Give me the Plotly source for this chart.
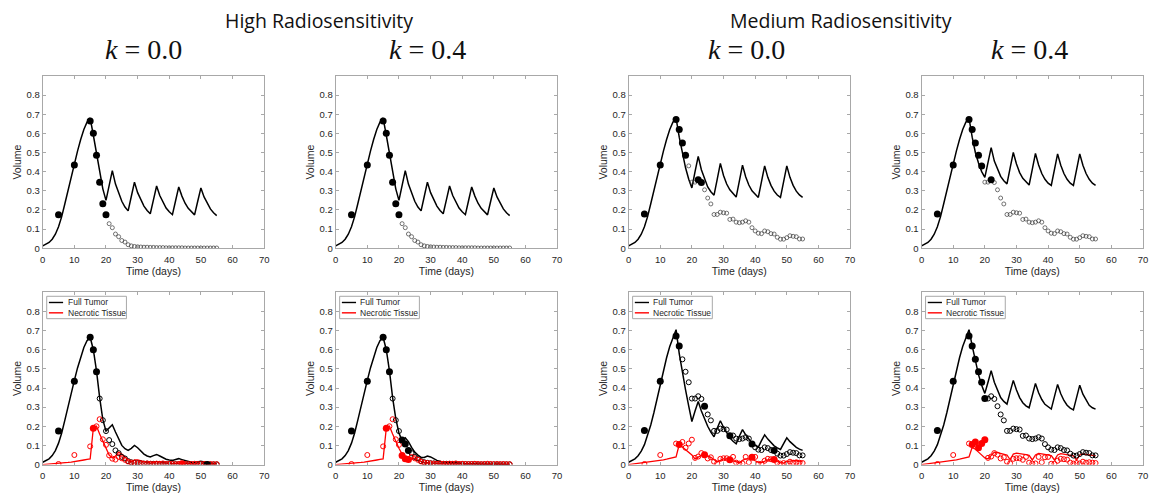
import plotly.graph_objects as go

# ---------------- model time grid (days) ----------------
t_model = [0, 1, 2, 3, 4, 5, 6, 7, 8, 9, 10, 11, 12, 13, 14, 15, 16, 17, 18, 19, 20,
           21, 22, 23, 24, 25, 26, 27, 28, 29, 30, 31, 32, 33, 34, 35, 36, 37, 38, 39, 40,
           41, 42, 43, 44, 45, 46, 47, 48, 49, 50, 51, 52, 53, 54, 55]

# growth phase (day 0..15)
growth_top = [0.012, 0.019, 0.030, 0.047, 0.073, 0.112, 0.165, 0.232, 0.305, 0.375, 0.440, 0.507, 0.568, 0.620, 0.658, 0.680]
growth_high_bottom = [0.012, 0.019, 0.030, 0.047, 0.073, 0.112, 0.165, 0.232, 0.305, 0.375, 0.440, 0.505, 0.562, 0.612, 0.647, 0.665]
growth_med_bottom = [0.012, 0.019, 0.030, 0.046, 0.070, 0.104, 0.150, 0.207, 0.272, 0.344, 0.420, 0.492, 0.558, 0.617, 0.666, 0.705]
necrotic_growth_high = [0.000, 0.001, 0.002, 0.003, 0.004, 0.006, 0.007, 0.009, 0.011, 0.013, 0.015, 0.018, 0.021, 0.024, 0.027, 0.030]
necrotic_growth_med = [0.000, 0.002, 0.004, 0.006, 0.008, 0.010, 0.012, 0.014, 0.017, 0.019, 0.022, 0.025, 0.028, 0.031, 0.035, 0.040]

# treatment phase (day 16..55)
tail_top_high = [0.590, 0.490, 0.390, 0.310, 0.250,
                 0.330, 0.405, 0.335, 0.285, 0.245, 0.215, 0.195,
                 0.270, 0.345, 0.290, 0.250, 0.220, 0.197, 0.180,
                 0.252, 0.325, 0.275, 0.238, 0.210, 0.190, 0.175,
                 0.248, 0.320, 0.272, 0.235, 0.208, 0.188, 0.174,
                 0.245, 0.315, 0.268, 0.232, 0.205, 0.185, 0.170]
tail_top_med_k00 = [0.580, 0.490, 0.420, 0.360, 0.315,
                    0.400, 0.480, 0.410, 0.360, 0.320, 0.295, 0.277,
                    0.360, 0.443, 0.380, 0.335, 0.305, 0.283, 0.267,
                    0.350, 0.434, 0.373, 0.330, 0.300, 0.280, 0.265,
                    0.348, 0.430, 0.370, 0.328, 0.298, 0.278, 0.265,
                    0.348, 0.430, 0.370, 0.328, 0.298, 0.278, 0.266]
tail_top_med_k04 = [0.580, 0.500, 0.445, 0.400, 0.370,
                    0.450, 0.525, 0.455, 0.410, 0.375, 0.352, 0.336,
                    0.420, 0.500, 0.440, 0.395, 0.365, 0.345, 0.330,
                    0.412, 0.495, 0.435, 0.390, 0.360, 0.340, 0.328,
                    0.410, 0.493, 0.433, 0.390, 0.360, 0.340, 0.328,
                    0.410, 0.493, 0.433, 0.390, 0.360, 0.340, 0.328]
tail_bot_high_k00_tumor = [0.600, 0.490, 0.350, 0.235, 0.175,
                           0.190, 0.208, 0.170, 0.130, 0.100, 0.083, 0.074,
                           0.085, 0.100, 0.088, 0.070, 0.055, 0.045, 0.040,
                           0.047, 0.053, 0.045, 0.035, 0.028, 0.024, 0.022,
                           0.027, 0.031, 0.026, 0.020, 0.015, 0.012, 0.011,
                           0.014, 0.017, 0.014, 0.010, 0.008, 0.006, 0.005]
tail_bot_high_k00_necrotic = [0.190, 0.200, 0.160, 0.125, 0.090,
                              0.050, 0.035, 0.045, 0.065, 0.055, 0.040, 0.020,
                              0.015, 0.025, 0.025, 0.020, 0.015, 0.010, 0.008,
                              0.012, 0.015, 0.013, 0.010, 0.008, 0.006, 0.005,
                              0.007, 0.008, 0.007, 0.005, 0.004, 0.003, 0.003,
                              0.004, 0.005, 0.004, 0.003, 0.002, 0.002, 0.002]
tail_bot_high_k04_tumor = [0.600, 0.490, 0.350, 0.240, 0.165,
                           0.125, 0.140, 0.120, 0.090, 0.065, 0.050, 0.038,
                           0.037, 0.045, 0.040, 0.030, 0.022, 0.016, 0.012,
                           0.011, 0.013, 0.011, 0.008, 0.006, 0.005, 0.004,
                           0.004, 0.005, 0.004, 0.003, 0.003, 0.002, 0.002,
                           0.002, 0.003, 0.002, 0.002, 0.002, 0.001, 0.001]
tail_bot_high_k04_necrotic = [0.190, 0.200, 0.160, 0.120, 0.085,
                              0.055, 0.035, 0.028, 0.035, 0.030, 0.022, 0.014,
                              0.009, 0.010, 0.010, 0.008, 0.006, 0.004, 0.003,
                              0.003, 0.004, 0.003, 0.002, 0.002, 0.002, 0.002,
                              0.002, 0.002, 0.002, 0.002, 0.002, 0.002, 0.002,
                              0.002, 0.002, 0.001, 0.001, 0.001, 0.001, 0.001]
tail_bot_med_k00_tumor = [0.580, 0.480, 0.390, 0.305, 0.225,
                          0.280, 0.330, 0.280, 0.235, 0.200, 0.170, 0.145,
                          0.190, 0.229, 0.195, 0.165, 0.140, 0.122, 0.109,
                          0.148, 0.183, 0.155, 0.132, 0.113, 0.100, 0.091,
                          0.125, 0.155, 0.133, 0.113, 0.098, 0.087, 0.079,
                          0.110, 0.140, 0.120, 0.103, 0.090, 0.081, 0.074]
tail_bot_med_k00_necrotic = [0.105, 0.092, 0.078, 0.065, 0.050,
                             0.030, 0.038, 0.048, 0.050, 0.045, 0.038, 0.025,
                             0.014, 0.022, 0.030, 0.030, 0.025, 0.020, 0.013,
                             0.010, 0.022, 0.030, 0.030, 0.028, 0.020, 0.012,
                             0.010, 0.018, 0.025, 0.026, 0.024, 0.018, 0.010,
                             0.008, 0.016, 0.020, 0.021, 0.020, 0.018, 0.016]
tail_bot_med_k04_tumor = [0.620, 0.540, 0.470, 0.415, 0.372,
                          0.430, 0.491, 0.430, 0.385, 0.350, 0.330, 0.316,
                          0.380, 0.440, 0.390, 0.350, 0.323, 0.307, 0.297,
                          0.360, 0.424, 0.375, 0.340, 0.315, 0.300, 0.290,
                          0.355, 0.419, 0.370, 0.335, 0.310, 0.295, 0.286,
                          0.350, 0.415, 0.368, 0.335, 0.310, 0.297, 0.290]
tail_bot_med_k04_necrotic = [0.090, 0.080, 0.065, 0.050, 0.035,
                             0.030, 0.050, 0.065, 0.063, 0.060, 0.056, 0.050,
                             0.025, 0.055, 0.060, 0.058, 0.055, 0.052, 0.048,
                             0.024, 0.050, 0.058, 0.056, 0.053, 0.050, 0.047,
                             0.024, 0.050, 0.057, 0.055, 0.052, 0.049, 0.046,
                             0.024, 0.050, 0.056, 0.054, 0.051, 0.048, 0.045]

# ---------------- measured data ----------------
data_days = [5, 10, 15, 16, 17, 18, 19, 20, 21, 22, 23, 24, 25, 26, 27, 28, 29, 30, 31, 32,
             33, 34, 35, 36, 37, 38, 39, 40, 41, 42, 43, 44, 45, 46, 47, 48, 49, 50, 51, 52,
             53, 54, 55]
high_tumor_data = [0.175, 0.435, 0.665, 0.600, 0.485, 0.345, 0.232, 0.175, 0.128, 0.107,
                   0.074, 0.060, 0.040, 0.032, 0.018, 0.012, 0.009, 0.007, 0.006, 0.005,
                   0.005, 0.004, 0.004, 0.003, 0.003, 0.003, 0.002, 0.002, 0.002, 0.002,
                   0.002, 0.002, 0.001, 0.001, 0.001, 0.001, 0.001, 0.001, 0.001, 0.001,
                   0.001, 0.001, 0.001]
high_necrotic_data = [0.003, 0.050, 0.095, 0.190, 0.200, 0.237, 0.132, 0.103, 0.048, 0.031,
                      0.026, 0.040, 0.033, 0.025, 0.015, 0.010, 0.008, 0.006, 0.005, 0.004,
                      0.006, 0.004, 0.003, 0.005, 0.004, 0.006, 0.003, 0.004, 0.003, 0.002,
                      0.003, 0.004, 0.003, 0.002, 0.003, 0.004, 0.003, 0.002, 0.003, 0.002,
                      0.003, 0.002, 0.002]
med_tumor_data = [0.178, 0.435, 0.672, 0.620, 0.550, 0.485, 0.430, 0.345, 0.345, 0.357,
                  0.343, 0.305, 0.262, 0.231, 0.176, 0.176, 0.188, 0.185, 0.183, 0.150,
                  0.152, 0.136, 0.133, 0.136, 0.143, 0.136, 0.107, 0.090, 0.078, 0.076,
                  0.090, 0.086, 0.076, 0.074, 0.057, 0.047, 0.047, 0.055, 0.065, 0.062,
                  0.060, 0.048, 0.048]
med_necrotic_data = [0.003, 0.050, 0.110, 0.105, 0.118, 0.088, 0.110, 0.130, 0.035, 0.042,
                     0.060, 0.052, 0.032, 0.038, 0.015, 0.006, 0.030, 0.033, 0.033, 0.025,
                     0.040, 0.010, 0.005, 0.006, 0.040, 0.012, 0.038, 0.040, 0.004, 0.004,
                     0.020, 0.030, 0.028, 0.026, 0.010, 0.005, 0.008, 0.006, 0.015, 0.010,
                     0.012, 0.010, 0.008]

# days used for calibration (filled markers) in each panel
fit_top_high_k00 = [5, 10, 15, 16, 17, 18, 19, 20]
fit_top_high_k04 = [5, 10, 15, 16, 17, 18, 19, 20]
fit_top_med_k00 = [5, 10, 15, 16, 17, 18, 22, 23]
fit_top_med_k04 = [5, 10, 15, 16, 17, 18, 19, 22]
fit_bot_high_k00_tumor = [5, 10, 15, 16, 17, 52]
fit_bot_high_k00_necrotic = [16, 44]
fit_bot_high_k04_tumor = [5, 10, 15, 16, 17, 21, 22, 23]
fit_bot_high_k04_necrotic = [16, 21, 22, 23]
fit_bot_med_k00_tumor = [5, 10, 15, 16, 24, 32, 39, 46]
fit_bot_med_k00_necrotic = [16, 24, 32, 39, 46]
fit_bot_med_k04_tumor = [5, 10, 15, 16, 17, 18, 19, 20]
fit_bot_med_k04_necrotic = [16, 17, 18, 19, 20]

x_ticks = [0, 10, 20, 30, 40, 50, 60, 70]
y_ticks = [0, 0.1, 0.2, 0.3, 0.4, 0.5, 0.6, 0.7, 0.8]
y_tick_labels = ["0", "0.1", "0.2", "0.3", "0.4", "0.5", "0.6", "0.7", "0.8"]

group_titles = ["High Radiosensitivity", "Medium Radiosensitivity"]
k_titles = ["<i>k</i> = 0.0", "<i>k</i> = 0.4", "<i>k</i> = 0.0", "<i>k</i> = 0.4"]
legend_labels = ["Full Tumor", "Necrotic Tissue"]

# ---------------- layout geometry ----------------
W, H = 1150, 497
col_px = [(40, 263), (335, 558), (630, 853), (925, 1148)]
row_px = [(76.7, 250.7), (295.3, 469.3)]

BLACK = "#000000"
RED = "#ff0000"
AX = "#a8a8a8"

panels = [
    dict(tumor=growth_top + tail_top_high, nec=None, tdata=high_tumor_data, ndata=None,
         tfit=fit_top_high_k00, nfit=None),
    dict(tumor=growth_top + tail_top_high, nec=None, tdata=high_tumor_data, ndata=None,
         tfit=fit_top_high_k04, nfit=None),
    dict(tumor=growth_top + tail_top_med_k00, nec=None, tdata=med_tumor_data, ndata=None,
         tfit=fit_top_med_k00, nfit=None),
    dict(tumor=growth_top + tail_top_med_k04, nec=None, tdata=med_tumor_data, ndata=None,
         tfit=fit_top_med_k04, nfit=None),
    dict(tumor=growth_high_bottom + tail_bot_high_k00_tumor,
         nec=necrotic_growth_high + tail_bot_high_k00_necrotic,
         tdata=high_tumor_data, ndata=high_necrotic_data,
         tfit=fit_bot_high_k00_tumor, nfit=fit_bot_high_k00_necrotic),
    dict(tumor=growth_high_bottom + tail_bot_high_k04_tumor,
         nec=necrotic_growth_high + tail_bot_high_k04_necrotic,
         tdata=high_tumor_data, ndata=high_necrotic_data,
         tfit=fit_bot_high_k04_tumor, nfit=fit_bot_high_k04_necrotic),
    dict(tumor=growth_med_bottom + tail_bot_med_k00_tumor,
         nec=necrotic_growth_med + tail_bot_med_k00_necrotic,
         tdata=med_tumor_data, ndata=med_necrotic_data,
         tfit=fit_bot_med_k00_tumor, nfit=fit_bot_med_k00_necrotic),
    dict(tumor=growth_med_bottom + tail_bot_med_k04_tumor,
         nec=necrotic_growth_med + tail_bot_med_k04_necrotic,
         tdata=med_tumor_data, ndata=med_necrotic_data,
         tfit=fit_bot_med_k04_tumor, nfit=fit_bot_med_k04_necrotic),
]


def split(days, vals, fit):
    xf = [d for d, v in zip(days, vals) if d in fit]
    yf = [v for d, v in zip(days, vals) if d in fit]
    xo = [d for d, v in zip(days, vals) if d not in fit]
    yo = [v for d, v in zip(days, vals) if d not in fit]
    return xf, yf, xo, yo


fig = go.Figure()
layout = dict(width=W, height=H, autosize=False, margin=dict(l=0, r=0, t=0, b=0),
              paper_bgcolor="white", plot_bgcolor="white", showlegend=False,
              font=dict(family="Liberation Sans, Arial, sans-serif", color="#262626"))
shapes, annotations = [], []

for i, p in enumerate(panels):
    n = i + 1
    row, col = divmod(i, 4)
    xs = "" if n == 1 else str(n)
    xa, ya = "x" + xs, "y" + xs
    bottom = row == 1
    open_size = 5 if bottom else 4
    open_lw = 1.0 if bottom else 0.7
    open_col = BLACK if bottom else "#3a3a3a"

    # model lines
    fig.add_trace(go.Scatter(x=t_model, y=p["tumor"], mode="lines", xaxis=xa, yaxis=ya,
                             line=dict(color=BLACK, width=1.5), hoverinfo="skip"))
    if p["nec"] is not None:
        fig.add_trace(go.Scatter(x=t_model, y=p["nec"], mode="lines", xaxis=xa, yaxis=ya,
                                 line=dict(color=RED, width=1.3), hoverinfo="skip"))
    # data markers
    xf, yf, xo, yo = split(data_days, p["tdata"], p["tfit"])
    fig.add_trace(go.Scatter(x=xo, y=yo, mode="markers", xaxis=xa, yaxis=ya,
                             marker=dict(symbol="circle-open", size=open_size, color=open_col,
                                         line=dict(width=open_lw, color=open_col))))
    if p["ndata"] is not None:
        nxf, nyf, nxo, nyo = split(data_days, p["ndata"], p["nfit"])
        fig.add_trace(go.Scatter(x=nxo, y=nyo, mode="markers", xaxis=xa, yaxis=ya,
                                 marker=dict(symbol="circle-open", size=open_size, color=RED,
                                             line=dict(width=open_lw, color=RED))))
    fig.add_trace(go.Scatter(x=xf, y=yf, mode="markers", xaxis=xa, yaxis=ya,
                             marker=dict(symbol="circle", size=7, color=BLACK)))
    if p["ndata"] is not None:
        fig.add_trace(go.Scatter(x=nxf, y=nyf, mode="markers", xaxis=xa, yaxis=ya,
                                 marker=dict(symbol="circle", size=7, color=RED)))

    x0, x1 = col_px[col]
    ytop, ybot = row_px[row]
    common = dict(showline=True, linecolor=AX, linewidth=1, mirror="ticks", ticks="inside",
                  ticklen=3, tickcolor=AX, tickwidth=1, showgrid=False, zeroline=False,
                  tickfont=dict(family="Liberation Sans, Arial, sans-serif", size=9.5, color="#262626"),
                  fixedrange=True)
    layout["xaxis" + xs] = dict(common, domain=[x0 / W, x1 / W], anchor=ya, range=[0, 70],
                                tickvals=x_ticks, ticklabelstandoff=2,
                                title=dict(text="Time (days)", standoff=3,
                                           font=dict(size=10.5, color="#262626")))
    layout["yaxis" + xs] = dict(common, domain=[1 - ybot / H, 1 - ytop / H], anchor=xa,
                                range=[0, 0.9], tickvals=y_ticks, ticktext=y_tick_labels,
                                title=dict(text="Volume", standoff=2,
                                           font=dict(size=10.5, color="#262626")))

    if bottom:
        xr, yr = xa + " domain", ya + " domain"
        shapes.append(dict(type="rect", xref=xr, yref=yr, x0=0.018, x1=0.378, y0=0.847, y1=0.977,
                           line=dict(color=AX, width=1), fillcolor="white", layer="above"))
        for j, (lab, c) in enumerate(zip(legend_labels, [BLACK, RED])):
            yy = 0.941 - j * 0.06
            shapes.append(dict(type="line", xref=xr, yref=yr, x0=0.028, x1=0.092, y0=yy, y1=yy,
                               line=dict(color=c, width=1.4), layer="above"))
            annotations.append(dict(xref=xr, yref=yr, x=0.103, y=yy, text=lab, showarrow=False,
                                    xanchor="left", yanchor="middle",
                                    font=dict(size=8.5, color="#262626",
                                              family="Liberation Sans, Arial, sans-serif")))

# column / group titles
for txt, cx in zip(group_titles, [318, 844]):
    annotations.append(dict(xref="paper", yref="paper", x=cx / W, y=1 - 21 / H, text=txt,
                            showarrow=False, xanchor="center", yanchor="middle",
                            font=dict(family="Open Sans, sans-serif", size=19.5, color="#111111")))
for txt, cx in zip(k_titles, [141, 427, 749, 1034]):
    annotations.append(dict(xref="paper", yref="paper", x=cx / W, y=1 - 50 / H, text=txt,
                            showarrow=False, xanchor="center", yanchor="middle",
                            font=dict(family="Liberation Serif, serif", size=28, color="#111111")))

layout["shapes"] = shapes
layout["annotations"] = annotations
fig.update_layout(**layout)
fig.write_html("out.html")
